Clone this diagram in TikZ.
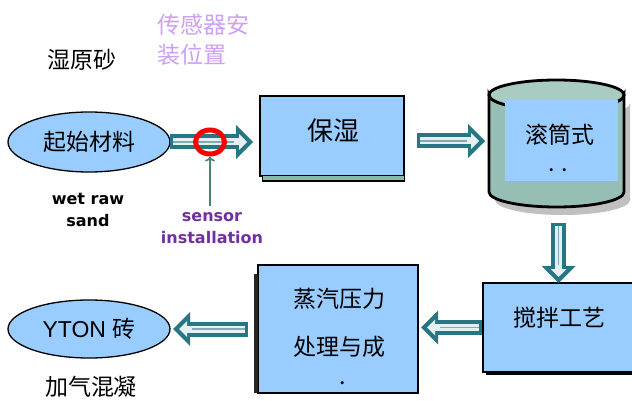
\documentclass[tikz,border=0pt]{standalone}
\usepackage{fontspec}
\newfontfamily\cjk{Noto Sans CJK SC}
\newfontfamily\arialf{Liberation Sans}
\newfontfamily\verd{DejaVu Sans}
\usetikzlibrary{arrows.meta,shapes.geometric,backgrounds,calc}
\definecolor{boxblue}{RGB}{153,204,255}
\definecolor{shadowgray}{RGB}{192,192,192}
\definecolor{arrowteal}{RGB}{38,118,132}
\definecolor{arrowlight}{RGB}{228,240,242}
\definecolor{arrowmid}{RGB}{130,170,178}
\definecolor{drumbody}{RGB}{150,190,180}
\definecolor{drumtop}{RGB}{168,204,194}
\definecolor{stripteal}{RGB}{140,184,172}
\definecolor{sensorpurple}{RGB}{112,48,160}
\definecolor{lavender}{RGB}{204,160,246}
\definecolor{pointergreen}{RGB}{72,134,112}
\definecolor{ringred}{RGB}{255,0,0}
\tikzset{
  cjkt/.style={font=\cjk\fontsize{23}{30}\selectfont},
  engbold/.style={font=\verd\bfseries\fontsize{16}{22}\selectfont, align=center},
  blockbox/.style={draw=black, line width=1.3pt, fill=boxblue},
  ovalbox/.style={ellipse, draw=black, line width=1.3pt, fill=boxblue},
  arrowout/.style={line width=15pt, draw=arrowteal, -{Triangle[length=17pt,width=34pt,line width=0pt]}},
  arrowin/.style={line width=7pt, draw=arrowlight, -{Triangle[length=8pt,width=16pt,line width=0pt]}},
  arrowcore/.style={line width=1.6pt, draw=arrowmid},
  pointer/.style={line width=1.6pt, draw=pointergreen, -{To[length=5pt,width=10pt]}},
}
\newcommand\hollowarrow[7]{%
  \draw[arrowout, shorten <=#3, shorten >=#4] #1 -- #2;
  \draw[arrowin, shorten <=#5, shorten >=#6] #1 -- #2;
  \draw[arrowcore, shorten <=#5, shorten >=#7] #1 -- #2;
}
\begin{document}
\begin{tikzpicture}[x=1pt,y=-1pt, every node/.style={inner sep=0pt, outer sep=0pt}]
\useasboundingbox[fill=white] (0,0) rectangle (632,401);

% ---- texts without frames
\node[cjkt] (wetcn) at (82,60) {湿原砂};
\node[cjkt, text=lavender, align=left] (sensorcn) at (203,40) {传感器安\\装位置};
\node[engbold] (wetraw) at (88,210) {wet raw\\sand};
\node[engbold, text=sensorpurple] (sensor) at (212,228) {sensor\\installation};
\node[cjkt] (aerated) at (91,387) {加气混凝};

% ---- drum (cylinder)
\fill[shadowgray] (495,103) -- (495,200) arc[start angle=180, end angle=0, x radius=67.5, y radius=15]
  -- (630,103) arc[start angle=0, end angle=180, x radius=67.5, y radius=15] -- cycle;
\draw[line width=2.8pt, fill=drumbody] (489,95) -- (489,192)
  arc[start angle=180, end angle=0, x radius=67.5, y radius=15] -- (624,95)
  arc[start angle=0, end angle=180, x radius=67.5, y radius=15] -- cycle;
\draw[line width=2.8pt, fill=drumtop] (556.5,95) ellipse [x radius=67.5, y radius=15];
\coordinate (drumleft) at (489,141);
\coordinate (drumbottom) at (556.5,207);
\node[fill=boxblue, minimum width=113pt, minimum height=81pt] (drum) at (561.5,140.5) {};
\node[cjkt] (drumtext) at (560,135) {滚筒式};
\node[cjkt] (drumdots) at (558,170) {. .};

% ---- main nodes
\node[ovalbox, minimum width=162pt, minimum height=60pt, cjkt] (start) at (89,142) {起始材料};
\node[blockbox, minimum width=144pt, minimum height=80pt] (box1) at (332,136) {};
\node[cjkt, font=\cjk\fontsize{26}{30}\selectfont] (box1text) at (333,131) {保湿};
\node[blockbox, minimum width=151pt, minimum height=89pt] (box3) at (558.5,327.5) {};
\node[cjkt] (box3text) at (559,318) {搅拌工艺};
\node[blockbox, minimum width=160pt, minimum height=128pt] (box2) at (338,329) {};
\node[cjkt] (box2a) at (339,299) {蒸汽压力};
\node[cjkt] (box2b) at (339,347) {处理与成};
\node[cjkt] (box2c) at (343,383) {.};
\node[ovalbox, minimum width=162pt, minimum height=58pt] (yton) at (89,329) {{\arialf\fontsize{23}{28}\selectfont YTON\ }{\cjk\fontsize{23}{28}\selectfont 砖}};

% ---- shadows and edges
\begin{scope}[on background layer]
  \fill[shadowgray] ($(box1.north west)+(9,15)$) rectangle ($(box1.south east)+(11,15)$);
  \fill[shadowgray] ($(box2.south west)+(7,0)$) rectangle ($(box2.south east)+(0,6)$);
  \fill[shadowgray] ($(box3.south west)+(16,0)$) rectangle ($(box3.south east)+(10,10)$);
  \fill[shadowgray] ($(start.center)+(5,9)$) ellipse [x radius=80, y radius=29];
  \fill[shadowgray] ($(yton.center)+(5,9)$) ellipse [x radius=80, y radius=28];
\end{scope}
\draw[line width=1pt, fill=stripteal] ($(box1.south west)+(2,0)$) rectangle ($(box1.south east)+(0,5)$);
\fill[black!85] ($(box2.north west)+(-4,9)$) rectangle ($(box2.south west)+(0,0)$);
\fill[black] ($(box3.south west)+(3,0)$) rectangle ($(box3.south east)+(0,2.5)$);

% ---- sensor ring position
\node[ellipse, minimum width=34pt, minimum height=29pt] (ring) at (210,142) {};

% ---- connectors
\hollowarrow{(start.east)}{(start.east -| box1.west)}{0pt}{7pt}{3pt}{13pt}{26pt}
\draw[ringred, line width=5pt] (ring.center) ellipse [x radius=14.5, y radius=12];
\draw[pointer, shorten <=6pt, shorten >=0pt] (ring.south |- sensor.north) -- (ring.south);
\hollowarrow{(box1.east |- drumleft)}{(drumleft)}{13pt}{4pt}{16pt}{10pt}{22pt}
\hollowarrow{(box3.north |- drumbottom)}{(box3.north)}{16pt}{0pt}{19pt}{6pt}{18pt}
\hollowarrow{(box3.west)}{(box3.west -| box2.east)}{1pt}{3pt}{4pt}{9pt}{22pt}
\hollowarrow{(box2.west)}{(box2.west -| yton.east)}{10pt}{3pt}{13pt}{9pt}{22pt}
\end{tikzpicture}
\end{document}
